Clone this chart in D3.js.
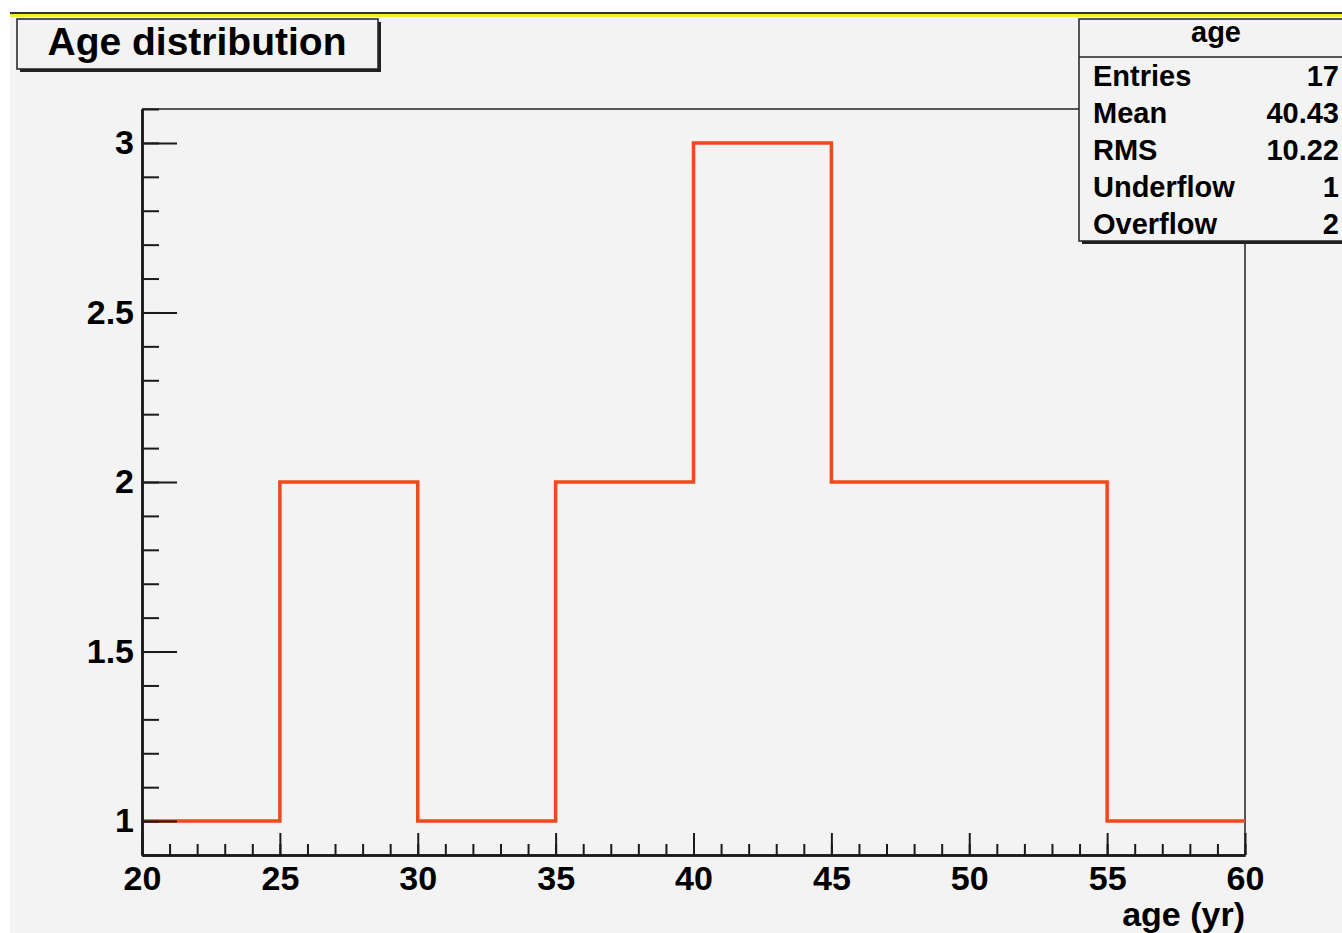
<!DOCTYPE html>
<html>
<head>
<meta charset="utf-8">
<script src="https://cdn.jsdelivr.net/npm/d3@7"></script>
<style>
  body { margin: 0; background: #fff; }
  svg { display: block; }
  text { font-family: 'Liberation Sans', Arial, Helvetica, sans-serif; font-weight: bold; fill: #000; }
</style>
</head>
<body>
<svg></svg>
<script>
const w = 1342;
const h = 933;

// histogram bins (lower edges) and contents
const binEdges = [20, 25, 30, 35, 40, 45, 50, 55, 60];
const binCounts = [1, 2, 1, 2, 3, 2, 2, 1];

const xMajor = [20, 25, 30, 35, 40, 45, 50, 55, 60];
const xMinor = d3.range(20, 61, 1);
const yMajor = [1, 1.5, 2, 2.5, 3];
const yMinor = d3.range(9, 32, 1).map(d => d / 10);

const statNames = ['Entries', 'Mean', 'RMS', 'Underflow', 'Overflow'];
const statValues = ['17', '40.43', '10.22', '1', '2'];

const svg = d3.select('svg').attr('width', w).attr('height', h);

// pad
svg.append('rect').attr('x', 10).attr('y', 12).attr('width', w - 10).attr('height', h - 12).attr('fill', '#f3f3f3');
svg.append('rect').attr('x', 10).attr('y', 12).attr('width', w - 10).attr('height', 2).attr('fill', '#333');
svg.append('rect').attr('x', 10).attr('y', 14).attr('width', w - 10).attr('height', 3).attr('fill', '#f5ec3a');

const xScale = d3.scaleLinear().domain([20, 60]).range([142, 1245]);
const yScale = d3.scaleLinear().domain([0.9, 3.1]).range([855, 109]);

// frame top / right
svg.append('line').attr('x1', 142).attr('x2', 1245).attr('y1', 109).attr('y2', 109)
  .attr('stroke', '#222').attr('stroke-width', 1.5);
svg.append('line').attr('x1', 1245).attr('x2', 1245).attr('y1', 109).attr('y2', 855)
  .attr('stroke', '#222').attr('stroke-width', 1.5);

// histogram step line
const pts = binCounts.map((c, i) => [binEdges[i], c]);
pts.push([binEdges[binEdges.length - 1], binCounts[binCounts.length - 1]]);
const line = d3.line()
  .x(d => xScale(d[0]))
  .y(d => yScale(d[1]))
  .curve(d3.curveStepAfter);
svg.append('path').attr('d', line(pts))
  .attr('fill', 'none').attr('stroke', '#ee4a1c').attr('stroke-width', 3.5);

// axes
const xMinorAxis = d3.axisBottom(xScale).tickValues(xMinor).tickSizeInner(-11).tickSizeOuter(0).tickFormat('');
const xAxis = d3.axisBottom(xScale).tickValues(xMajor).tickSizeInner(-22).tickSizeOuter(0).tickPadding(11).tickFormat(d3.format('d'));
const yMinorAxis = d3.axisLeft(yScale).tickValues(yMinor).tickSizeInner(-17).tickSizeOuter(0).tickFormat('');
const yAxis = d3.axisLeft(yScale).tickValues(yMajor).tickSizeInner(-35).tickSizeOuter(0).tickPadding(8).tickFormat(d => d);

[xMinorAxis, xAxis].forEach(a => {
  svg.append('g').attr('class', 'axis').attr('transform', 'translate(0,855)').call(a);
});
[yMinorAxis, yAxis].forEach(a => {
  svg.append('g').attr('class', 'axis').attr('transform', 'translate(142,0)').call(a);
});
svg.selectAll('.axis path').attr('stroke', '#1a1a1a').attr('stroke-width', 2.5);
svg.selectAll('.axis line').attr('stroke', '#1a1a1a').attr('stroke-width', 2);
svg.selectAll('.axis text').style('font-size', '34px').attr('fill', '#000')
  .style('font-family', "'Liberation Sans', Arial, sans-serif").style('font-weight', 'bold');

svg.append('text').text('age (yr)')
  .attr('x', 1245).attr('y', 926).attr('text-anchor', 'end').style('font-size', '34px');

// title box
svg.append('rect').attr('x', 20).attr('y', 22).attr('width', 361).attr('height', 50).attr('fill', '#222');
svg.append('rect').attr('x', 17).attr('y', 19).attr('width', 361).attr('height', 50)
  .attr('fill', '#f3f3f3').attr('stroke', '#222').attr('stroke-width', 1.5);
svg.append('text').text('Age distribution')
  .attr('x', 197).attr('y', 55).attr('text-anchor', 'middle').style('font-size', '39px');

// stats box
svg.append('rect').attr('x', 1082).attr('y', 22).attr('width', 280).attr('height', 222).attr('fill', '#222');
svg.append('rect').attr('x', 1079).attr('y', 19).attr('width', 280).attr('height', 222)
  .attr('fill', '#f3f3f3').attr('stroke', '#222').attr('stroke-width', 1.5);
svg.append('line').attr('x1', 1079).attr('x2', w).attr('y1', 57).attr('y2', 57)
  .attr('stroke', '#222').attr('stroke-width', 1.5);
svg.append('text').text('age').attr('x', 1216).attr('y', 42)
  .attr('text-anchor', 'middle').style('font-size', '29px');

const rowScale = d3.scalePoint().domain(statNames).range([86, 234]);
svg.selectAll('.sname').data(statNames).enter().append('text')
  .attr('class', 'sname').text(d => d)
  .attr('x', 1093).attr('y', d => rowScale(d)).style('font-size', '29px');
svg.selectAll('.sval').data(statValues).enter().append('text')
  .attr('class', 'sval').text(d => d)
  .attr('x', 1339).attr('y', (d, i) => rowScale(statNames[i]))
  .attr('text-anchor', 'end').style('font-size', '29px');
</script>
</body>
</html>
